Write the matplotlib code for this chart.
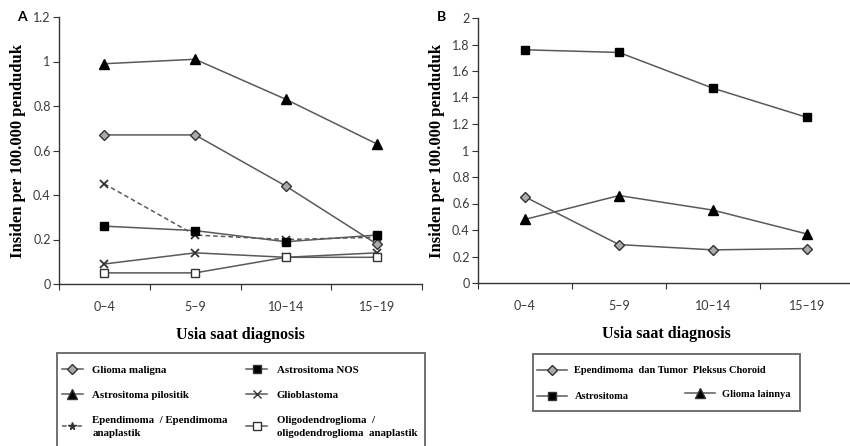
import matplotlib.pyplot as plt
from matplotlib.lines import Line2D
from matplotlib.patches import Rectangle

ages = ["0\u20134", "5\u20139", "10\u201314", "15\u201319"]

# panel A
glioma_maligna = [0.67, 0.67, 0.44, 0.18]
astro_pilositik = [0.99, 1.01, 0.83, 0.63]
ependimoma = [0.45, 0.22, 0.20, 0.21]
astro_nos = [0.26, 0.24, 0.19, 0.22]
glioblastoma = [0.09, 0.14, 0.12, 0.14]
oligo = [0.05, 0.05, 0.12, 0.12]

# panel B
epend_choroid = [0.65, 0.29, 0.25, 0.26]
astrositoma = [1.76, 1.74, 1.47, 1.25]
glioma_lain = [0.48, 0.66, 0.55, 0.37]

LC = "#5a5a5a"
AX = "#333333"
serif = "Liberation Serif"

fig = plt.figure(figsize=(8.5, 4.46), dpi=100)
W, H = 850, 446
axA = fig.add_axes([59 / W, 1 - 284 / H, (422 - 59) / W, (284 - 17) / H])
axB = fig.add_axes([478 / W, 1 - 283 / H, (854 - 478) / W, (283 - 18) / H])

x = range(len(ages))


def fmt(t):
    t = round(t, 1)
    return str(int(t)) if t == int(t) else str(t)


def style(ax, ymax, step):
    for s in ["top", "right"]:
        ax.spines[s].set_visible(False)
    for s in ["left", "bottom"]:
        ax.spines[s].set_color(AX)
        ax.spines[s].set_linewidth(1.0)
    ax.set_xlim(-0.5, 3.5)
    ax.set_ylim(0, ymax)
    ax.set_xticks([-0.5, 0.5, 1.5, 2.5, 3.5])
    ax.set_xticklabels([])
    ax.set_xticks(range(4), minor=True)
    ax.set_xticklabels(ages, minor=True, fontfamily="Lato", fontsize=9, color="#3a3a3a")
    ax.tick_params(axis="x", which="major", length=4, color=AX, direction="out")
    ax.tick_params(axis="x", which="minor", length=0, pad=12)
    ticks = [i * step for i in range(int(round(ymax / step)) + 1)]
    ax.set_yticks(ticks)
    ax.set_yticklabels([fmt(t) for t in ticks], fontfamily="Lato", fontsize=9, color="#3a3a3a")
    ax.tick_params(axis="y", length=4, color=AX, pad=2)
    ax.set_xlabel("Usia saat diagnosis", fontfamily=serif, fontweight="bold", fontsize=11.5, labelpad=10)
    ax.set_ylabel("Insiden per 100.000 penduduk", fontfamily=serif, fontweight="bold", fontsize=12, labelpad=5)


ms = 5.5
axA.plot(x, astro_pilositik, color=LC, lw=1.1, marker="^", ms=ms + 1, mfc="black", mec="black", clip_on=False)
axA.plot(x, glioma_maligna, color=LC, lw=1.1, marker="D", ms=ms, mfc="#aaaaaa", mec="#333333", clip_on=False)
axA.plot(x, ependimoma, color=LC, lw=1.1, ls=(0, (3, 2)), marker="x", ms=ms, mec="#333333", mew=1.3, clip_on=False)
axA.plot(x, astro_nos, color=LC, lw=1.1, marker="s", ms=ms, mfc="black", mec="black", clip_on=False)
axA.plot(x, glioblastoma, color=LC, lw=1.1, marker="x", ms=ms, mec="#333333", mew=1.3, clip_on=False)
axA.plot(x, oligo, color=LC, lw=1.1, marker="s", ms=ms, mfc="white", mec="#333333", clip_on=False)
style(axA, 1.2, 0.2)

axB.plot(x, astrositoma, color=LC, lw=1.1, marker="s", ms=ms, mfc="black", mec="black", clip_on=False)
axB.plot(x, glioma_lain, color=LC, lw=1.1, marker="^", ms=ms + 1, mfc="black", mec="black", clip_on=False)
axB.plot(x, epend_choroid, color=LC, lw=1.1, marker="D", ms=ms, mfc="#aaaaaa", mec="#333333", clip_on=False)
style(axB, 2.0, 0.2)

fig.text(17 / W, 1 - 17 / H, "A", fontfamily="Lato", fontweight="bold", fontsize=10, va="center")
fig.text(437 / W, 1 - 17 / H, "B", fontfamily="Lato", fontweight="bold", fontsize=10, va="center")


def h(marker, mfc, ls="-", mfs=ms):
    return Line2D([], [], color=LC, lw=1.1, ls=ls, marker=marker, ms=mfs, mfc=mfc, mec="#333333", mew=1.0)


# legend frames
for (x0, y0, x1, y1) in [(57, 353, 425, 460), (533, 354, 800, 411)]:
    fig.add_artist(Rectangle((x0 / W, 1 - y1 / H), (x1 - x0) / W, (y1 - y0) / H,
                             transform=fig.transFigure, fill=False, ec="#707070", lw=1.4, clip_on=False))

fontA = {"family": serif, "weight": "bold", "size": 7.8}
handlesA = [h("D", "#aaaaaa"), h("^", "black", mfs=ms + 1), h("*", "#333333", ls=(0, (3, 2))),
            h("s", "black"), h("x", "none"), h("s", "white")]
labelsA = ["Glioma maligna", "Astrositoma pilositik", "Ependimoma  / Ependimoma\nanaplastik",
           "Astrositoma NOS", "Glioblastoma", "Oligodendroglioma  /\noligodendroglioma  anaplastik"]
legA = fig.legend(handlesA, labelsA, loc="upper left", bbox_to_anchor=(62 / W, 1 - 365 / H),
                  ncol=2, prop=fontA, frameon=False, borderaxespad=0, borderpad=0,
                  handlelength=1.9, handletextpad=0.9, columnspacing=1.7, labelspacing=1.45)
for t in legA.get_texts():
    t.set_linespacing(1.6)

fontB = {"family": serif, "weight": "bold", "size": 7.5}
fig.legend([h("D", "#aaaaaa"), h("s", "black")],
           ["Ependimoma  dan Tumor  Pleksus Choroid", "Astrositoma"],
           loc="upper left", bbox_to_anchor=(537 / W, 1 - 366 / H), prop=fontB, frameon=False,
           borderaxespad=0, borderpad=0, handlelength=2.9, handletextpad=0.7, labelspacing=1.6)
fig.legend([h("^", "black", mfs=ms + 1)], ["Glioma lainnya"], loc="center left",
           bbox_to_anchor=(685 / W, 1 - 394 / H), prop=fontB, frameon=False,
           borderaxespad=0, borderpad=0, handlelength=2.9, handletextpad=0.7)

fig.savefig("out.png", dpi=100)
